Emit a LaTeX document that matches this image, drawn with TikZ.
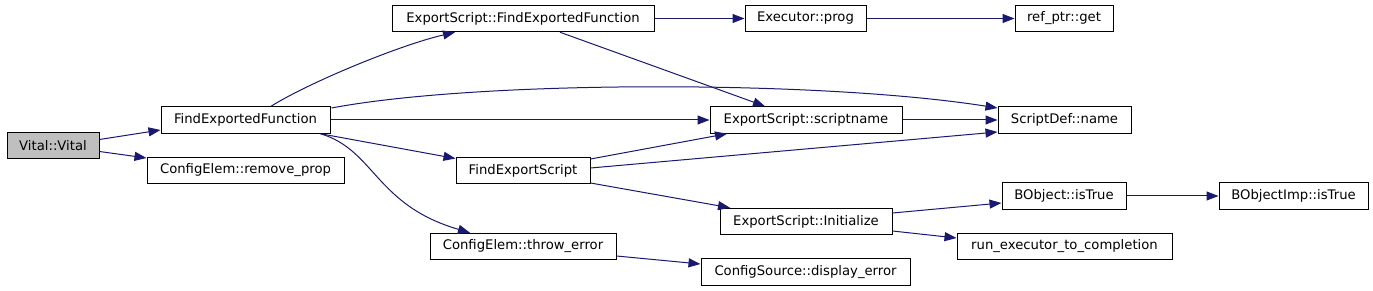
\documentclass[tikz,border=0pt]{standalone}
\usepackage{fontspec}
\setmainfont{DejaVu Sans}
\usetikzlibrary{arrows.meta,calc}
\definecolor{edgeblue}{HTML}{191970}
\definecolor{grayfill}{HTML}{BFBFBF}
\begin{document}
\begin{tikzpicture}[x=1pt,y=-1pt,
  fn/.style={draw=black,line width=1pt,inner sep=0pt,font=\fontsize{13.2}{15}\selectfont,anchor=center,minimum height=26.5pt},
  conn/.style={draw=edgeblue,line width=1pt,-{Triangle[length=12pt,width=9pt,fill=edgeblue]}}]
\useasboundingbox[fill=white] (0,0) rectangle (1373,291);
\node[fn,minimum width=92pt,fill=grayfill] (vital) at (53,145.5) {Vital::Vital};
\node[fn,minimum width=169pt] (fef) at (245.5,120) {FindExportedFunction};
\node[fn,minimum width=197pt] (rp) at (245.5,170.5) {ConfigElem::remove\_prop};
\node[fn,minimum width=262pt] (esfef) at (523,18.5) {ExportScript::FindExportedFunction};
\node[fn,minimum width=121pt] (prog) at (805.5,18.5) {Executor::prog};
\node[fn,minimum width=98pt] (get) at (1064,18.5) {ref\_ptr::get};
\node[fn,minimum width=134pt] (fes) at (523,170.5) {FindExportScript};
\node[fn,minimum width=192pt] (sn) at (806,120) {ExportScript::scriptname};
\node[fn,minimum width=133pt] (name) at (1064.5,120) {ScriptDef::name};
\node[fn,minimum width=172pt] (init) at (806,221.5) {ExportScript::Initialize};
\node[fn,minimum width=186pt] (te) at (523,246.5) {ConfigElem::throw\_error};
\node[fn,minimum width=209pt] (de) at (805.5,272) {ConfigSource::display\_error};
\node[fn,minimum width=124pt] (bt) at (1064,196) {BObject::isTrue};
\node[fn,minimum width=149pt] (bit) at (1293.5,196) {BObjectImp::isTrue};
\node[fn,minimum width=215pt] (rec) at (1064.5,246.5) {run\_executor\_to\_completion};

\draw[conn] ($(vital.east)+(0,-6)$) -- ($(fef.west)+(0,10)$);
\draw[conn] ($(vital.east)+(0,6)$) -- ($(rp.west)+(0,-12.5)$);
\draw[conn] ($(fef.north)+(25.5,0)$) .. controls (310,82) and (400,45) .. ($(esfef.south)+(-68,0)$);
\draw[conn] ($(fef.east)+(1,-12)$) .. controls (480,80) and (820,80) .. ($(name.west)+(0,-12)$);
\draw[conn] (fef.east) -- (sn.west);
\draw[conn] ($(fef.south east)+(-10,0)$) -- ($(fes.west)+(0,-12)$);
\draw[conn] ($(fef.south east)+(-10,0)$) .. controls (375,150) and (375,205) .. ($(te.north)+(-53,0)$);
\draw[conn] (esfef.east) -- (prog.west);
\draw[conn] ($(esfef.south)+(37,0)$) -- ($(sn.north)+(-41,0)$);
\draw[conn] (prog.east) -- (get.west);
\draw[conn] ($(fes.east)+(0,-11.5)$) -- ($(sn.south)+(-79,0)$);
\draw[conn] ($(fes.east)+(0,-2.5)$) -- ($(name.west)+(0,12)$);
\draw[conn] ($(fes.east)+(0,12.5)$) -- ($(init.north)+(-76,0)$);
\draw[conn] (sn.east) -- (name.west);
\draw[conn] ($(init.east)+(0,-8.5)$) -- ($(bt.west)+(0,7)$);
\draw[conn] ($(init.east)+(0,9.5)$) -- ($(rec.west)+(0,-8.5)$);
\draw[conn] (bt.east) -- (bit.west);
\draw[conn] ($(te.east)+(0,9.5)$) -- ($(de.west)+(0,-8)$);
\end{tikzpicture}
\end{document}
